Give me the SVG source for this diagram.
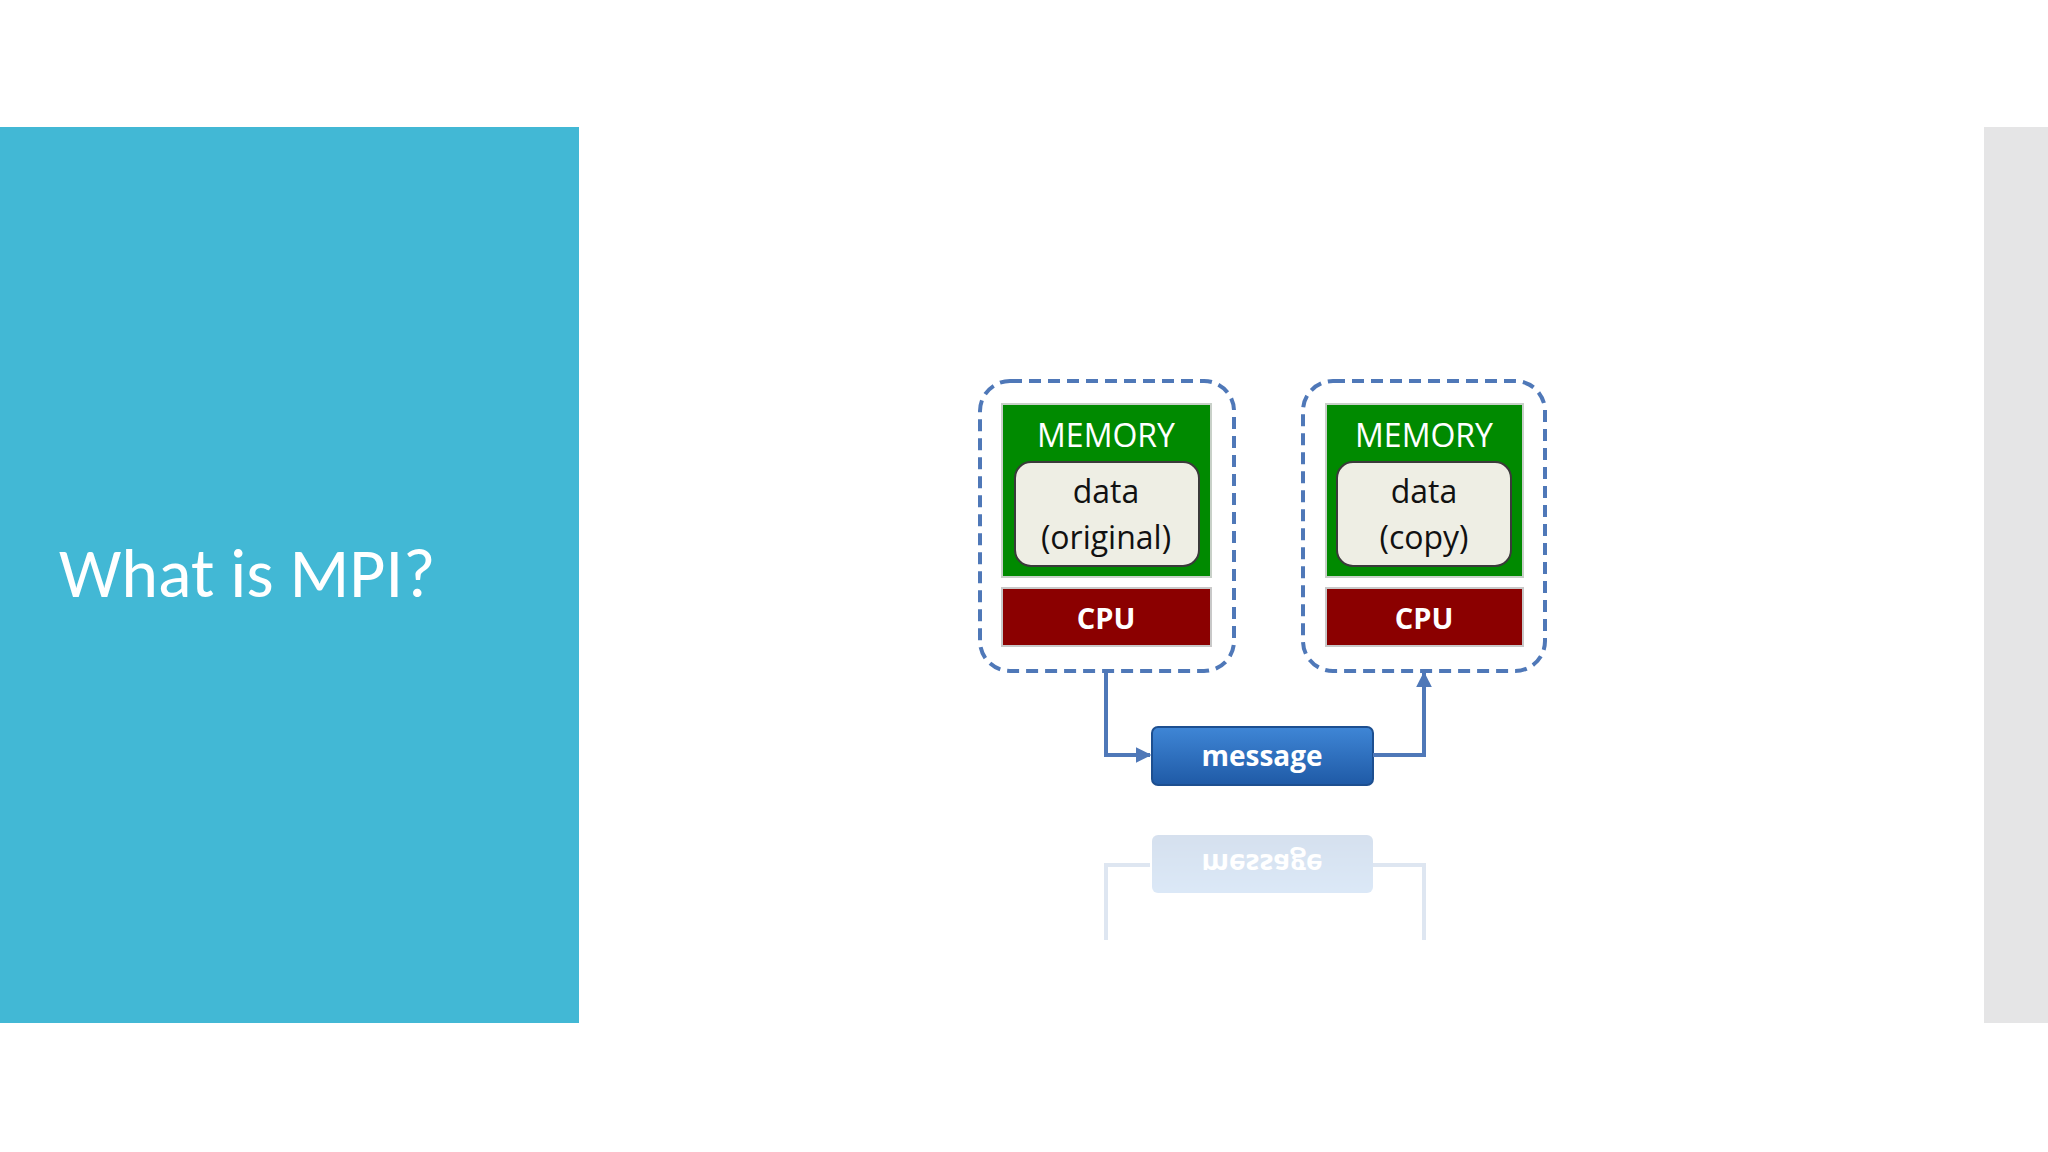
<svg xmlns="http://www.w3.org/2000/svg" width="2048" height="1152" viewBox="0 0 2048 1152">
<defs>
<style>
.dash{fill:#fff;stroke:#4f78b8;stroke-width:4;stroke-dasharray:12 7}
.mem{fill:#008a00;stroke:#c8d0c8;stroke-width:2}
.data{fill:#eeeee4;stroke:#3a3a3a;stroke-width:2}
.cpu{fill:#8b0000;stroke:#c8c8c8;stroke-width:2}
.t{font-family:"Open Sans","Liberation Sans",sans-serif;text-anchor:middle}
.conn{fill:none;stroke:#4f78b8;stroke-width:4}
</style>
<linearGradient id="mg" x1="0" y1="0" x2="0" y2="1"><stop offset="0" stop-color="#3f86d6"/><stop offset="1" stop-color="#1f5aa6"/></linearGradient>
<marker id="ah" viewBox="0 0 10 10" refX="9" refY="5" markerWidth="4" markerHeight="4" orient="auto"><path d="M0,0L10,5L0,10z" fill="#4f78b8"/></marker>
</defs>
<rect width="2048" height="1152" fill="#fff"/>
<rect x="0" y="127" width="579" height="896" fill="#42b8d5"/>
<rect x="1984" y="127" width="64" height="896" fill="#e5e5e6"/>
<text x="59" y="597" font-family="Calibri,'Open Sans','Liberation Sans',sans-serif" font-size="70" fill="#fff">What is MPI?</text>
<g id="left">
<rect class="dash" x="980" y="381" width="254" height="290" rx="30"/>
<rect class="mem" x="1002" y="404" width="209" height="173"/>
<text class="t" x="1106" y="447" font-size="32" fill="#fff">MEMORY</text>
<rect class="data" x="1015" y="462" width="184" height="104" rx="16"/>
<text class="t" x="1106" y="503" font-size="32" fill="#111">data</text>
<text class="t" x="1106" y="549" font-size="32" fill="#111">(original)</text>
<rect class="cpu" x="1002" y="588" width="209" height="58"/>
<text class="t" x="1106" y="629" font-size="29" font-weight="bold" fill="#fff">CPU</text>
</g>
<g id="right">
<rect class="dash" x="1303" y="381" width="242" height="290" rx="30"/>
<rect class="mem" x="1326" y="404" width="197" height="173"/>
<text class="t" x="1424" y="447" font-size="32" fill="#fff">MEMORY</text>
<rect class="data" x="1337" y="462" width="174" height="104" rx="16"/>
<text class="t" x="1424" y="503" font-size="32" fill="#111">data</text>
<text class="t" x="1424" y="549" font-size="32" fill="#111">(copy)</text>
<rect class="cpu" x="1326" y="588" width="197" height="58"/>
<text class="t" x="1424" y="629" font-size="29" font-weight="bold" fill="#fff">CPU</text>
</g>
<g id="message">
<rect x="1152" y="727" width="221" height="58" rx="6" fill="url(#mg)" stroke="#1d4f90" stroke-width="2"/>
<text class="t" x="1262" y="766" font-size="28" font-weight="bold" fill="#fff">message</text>
</g>
<g id="connectors">
<path class="conn" d="M1106,671V755H1150" marker-end="url(#ah)"/>
<path class="conn" d="M1373,755H1424V673" marker-end="url(#ah)"/>
</g>
<g id="reflection" opacity="0.18" transform="translate(0,1620) scale(1,-1)">
<path class="conn" d="M1106,680V755H1150"/>
<path class="conn" d="M1373,755H1424V680"/>
<rect x="1152" y="727" width="221" height="58" rx="6" fill="url(#mg)"/>
<text class="t" x="1262" y="766" font-size="28" font-weight="bold" fill="#fff">message</text>
</g>
</svg>
